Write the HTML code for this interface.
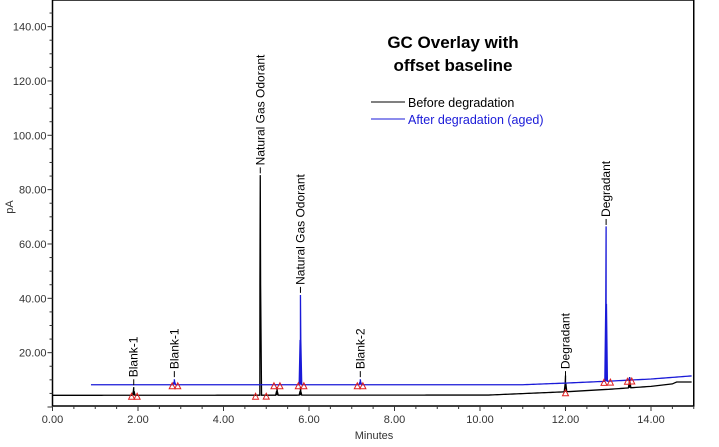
<!DOCTYPE html>
<html><head><meta charset="utf-8"><style>
body{margin:0;background:#fff;}
svg{display:block;font-family:"Liberation Sans",Arial,sans-serif;}
</style></head><body>
<svg id="chart" width="719" height="447">
<g id="axes"></g><g id="traces"></g><g id="marks"></g>
<text x="453" y="48" text-anchor="middle" font-size="17" font-weight="bold">GC Overlay with</text>
<text x="453" y="71" text-anchor="middle" font-size="17" font-weight="bold">offset baseline</text>
<line x1="371" y1="102" x2="405" y2="102" stroke="#000" stroke-width="1"/>
<text x="408" y="107" font-size="12.5" fill="#000">Before degradation</text>
<line x1="371" y1="119" x2="405" y2="119" stroke="#1a1ad8" stroke-width="1"/>
<text x="408" y="124" font-size="12.5" fill="#1a1ad8">After degradation (aged)</text>
<text transform="translate(13,207) rotate(-90)" text-anchor="middle" font-size="11" fill="#333">pA</text>
<text x="374" y="439" text-anchor="middle" font-size="11" fill="#333">Minutes</text>
</svg>
<script>
const xTicks=[0,2,4,6,8,10,12,14];
const yTicks=[20,40,60,80,100,120,140];
// baseline (time, pA)
const beforeBaseT=[0,10.2,12,13,14,14.5,14.6,15];
const beforeBaseV=[4.3,4.4,5.6,6.5,7.6,8.5,9.2,9.2];
const afterBaseT=[0.9,11.0,12,13,14,15];
const afterBaseV=[8.2,8.2,8.8,9.5,10.3,11.5];
// peaks
const beforePeakT=[1.9,4.86,5.25,5.8,12.0,13.5];
const beforePeakH=[3,81,3,3,6,4];
const afterPeakT=[2.85,5.8,7.2,12.95,13.5];
const afterPeakH=[2,33,2,57,1];
const labelNames=["Blank-1","Blank-1","Natural Gas Odorant","Natural Gas Odorant","Blank-2","Degradant","Degradant"];
const labelT=[1.9,2.85,4.86,5.8,7.2,12.0,12.95];
const labelV=[8,11,86,42,11,11,67];
const triT=[1.85,1.98,2.8,2.93,4.75,5.0,5.18,5.32,5.75,5.88,7.13,7.26,12.0,12.9,13.05,13.45,13.55];
const triSeries=["b","b","a","a","b","b","a","a","a","a","a","a","b","a","a","a","a"];

const NS="http://www.w3.org/2000/svg";
const X=t=>52.5+t*42.75, Y=v=>407-v*2.717;
function mk(tag,at,parent){const e=document.createElementNS(NS,tag);for(const k in at)e.setAttribute(k,at[k]);document.getElementById(parent).appendChild(e);return e;}
function interp(T,V,t){if(t<=T[0])return V[0];for(let i=1;i<T.length;i++)if(t<=T[i])return V[i-1]+(V[i]-V[i-1])*(t-T[i-1])/(T[i]-T[i-1]);return V[V.length-1];}

// frame
let f=mk("rect",{x:X(0),y:0,width:X(15)-X(0),height:406,fill:"none",stroke:"#000","stroke-width":1.5},"axes");


for(let v=0;v<=150;v+=5){const major=v%20===0;let l=mk("line",{x1:X(0)-(major?5:3),x2:X(0),y1:Y(v),y2:Y(v),stroke:"#333"},"axes");

}
yTicks.forEach(v=>{let t=mk("text",{x:X(0)-6,y:Y(v)+4,"text-anchor":"end","font-size":11,fill:"#333"},"axes");t.textContent=v.toFixed(2);

});
for(let t=0;t<=15;t+=0.5){const major=t%2===0;let l=mk("line",{x1:X(t),x2:X(t),y1:406,y2:406+(major?5:3),stroke:"#333"},"axes");

}
xTicks.forEach(v=>{let t=mk("text",{x:X(v),y:423,"text-anchor":"middle","font-size":11,fill:"#333"},"axes");t.textContent=v.toFixed(2);

});

function trace(BT,BV,PT,PH,t0,color,name){
  let pts=[];const w=0.03;
  let events=[];
  for(let t=t0;t<=15;t+=0.05)events.push([t,null]);
  PT.forEach((p,i)=>{events.push([p-w,null]);events.push([p-0.008,PH[i]*0.5]);events.push([p,PH[i]]);events.push([p+0.008,PH[i]*0.5]);events.push([p+w,null]);});
  events=events.filter(e=>e[0]>=t0&&e[0]<=15).sort((a,b)=>a[0]-b[0]);
  events.forEach(e=>{const b=interp(BT,BV,e[0]);pts.push(X(e[0]).toFixed(2)+","+Y(b+(e[1]||0)).toFixed(2));});
  let p=mk("polyline",{points:pts.join(" "),fill:"none",stroke:color,"stroke-width":1.3},"traces");
  
  
}
trace(beforeBaseT,beforeBaseV,beforePeakT,beforePeakH,0,"#000","before-degradation-trace");
trace(afterBaseT,afterBaseV,afterPeakT,afterPeakH,0.9,"#1a1ad8","after-degradation-trace");

triT.forEach((t,i)=>{const base=triSeries[i]==="a"?interp(afterBaseT,afterBaseV,t):interp(beforeBaseT,beforeBaseV,t);
  const x=X(t),y=Y(base)+1;
  let tr=mk("polygon",{points:`${x-3},${y+3} ${x+3},${y+3} ${x},${y-3}`,fill:"none",stroke:"#e02020","stroke-width":1},"marks");
  
  });

labelNames.forEach((n,i)=>{const x=X(labelT[i]),y=Y(labelV[i]);
  let l=mk("line",{x1:x,x2:x,y1:y,y2:y-6,stroke:"#000"},"marks");
  
  
  let t=mk("text",{transform:`translate(${x+4},${y-8}) rotate(-90)`,"font-size":12,fill:"#000"},"marks");t.textContent=n;
  
  });
</script>
</body></html>
